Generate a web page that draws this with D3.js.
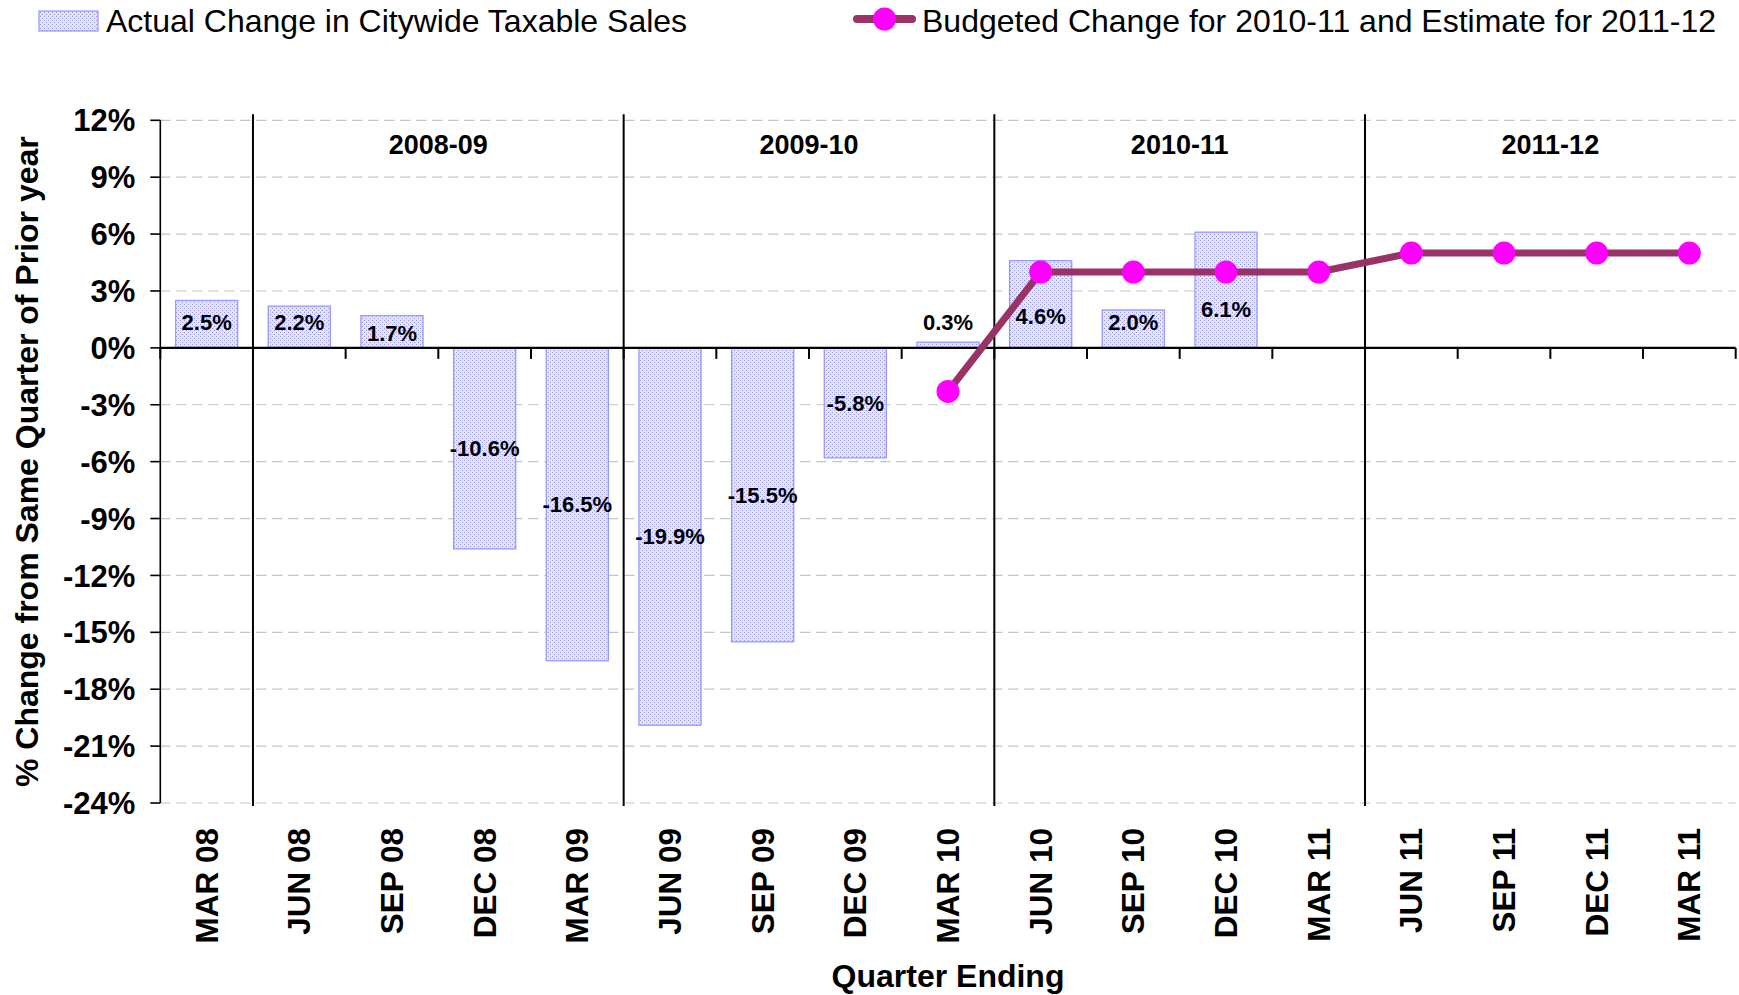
<!DOCTYPE html>
<html>
<head>
<meta charset="utf-8">
<script src="https://cdn.jsdelivr.net/npm/d3@7"></script>
<style>
  html, body { margin: 0; padding: 0; background: #fff; }
  svg { display: block; font-family: "Liberation Sans", Arial, sans-serif; }
</style>
</head>
<body>
<svg id="chart" width="1739" height="995"></svg>
<script>
// ---------------- DATA ----------------
const categories = ["MAR 08","JUN 08","SEP 08","DEC 08","MAR 09","JUN 09","SEP 09","DEC 09",
                    "MAR 10","JUN 10","SEP 10","DEC 10","MAR 11","JUN 11","SEP 11","DEC 11","MAR 11"];
const actualChange = [2.5, 2.2, 1.7, -10.6, -16.5, -19.9, -15.5, -5.8, 0.3, 4.6, 2.0, 6.1,
                      null, null, null, null, null];
const actualLabels = ["2.5%","2.2%","1.7%","-10.6%","-16.5%","-19.9%","-15.5%","-5.8%",
                      "0.3%","4.6%","2.0%","6.1%", null, null, null, null, null];
// level (in % units) at which each data label is centred
const labelLevels = [1.35, 1.35, 0.8, -5.3, -8.25, -9.95, -7.75, -2.9, 1.35, 1.65, 1.35, 2.05,
                     null, null, null, null, null];
const budgetedChange = [null, null, null, null, null, null, null, null,
                        -2.3, 4.0, 4.0, 4.0, 4.0, 5.0, 5.0, 5.0, 5.0];
const yTicks = [12, 9, 6, 3, 0, -3, -6, -9, -12, -15, -18, -21, -24];
const fiscalYears = ["2008-09", "2009-10", "2010-11", "2011-12"];
const fiscalYearStart = [1, 5, 9, 13];   // category index where each fiscal year begins
const fiscalYearEnd   = [5, 9, 13, 17];
const legendLabels = ["Actual Change in Citywide Taxable Sales",
                      "Budgeted Change for 2010-11 and Estimate for 2011-12"];
const xTitle = "Quarter Ending";
const yTitle = "% Change from Same Quarter of Prior year";

// ---------------- LAYOUT ----------------
const W = 1739, H = 995;
const plot = { left: 160.3, right: 1735.7, top: 120.3, bottom: 803 };
const FONT = '"Liberation Sans", Arial, sans-serif';

const svg = d3.select("#chart");

const defs = svg.append("defs");
const pat = defs.append("pattern").attr("id", "dots")
  .attr("width", 4).attr("height", 4).attr("patternUnits", "userSpaceOnUse");
pat.append("rect").attr("width", 4).attr("height", 4).attr("fill", "#E3E3FD");
pat.append("rect").attr("x", 0).attr("y", 0).attr("width", 1).attr("height", 1).attr("fill", "#9898EE");
pat.append("rect").attr("x", 2).attr("y", 2).attr("width", 1).attr("height", 1).attr("fill", "#9898EE");

const idx = d3.range(categories.length);
const x = d3.scaleBand().domain(idx).range([plot.left, plot.right])
  .paddingInner(0.33).paddingOuter(0.165);
const edge = d3.scaleLinear().domain([0, categories.length]).range([plot.left, plot.right]);
const y = d3.scaleLinear().domain([-24, 12]).range([plot.bottom, plot.top]);
const cx = i => x(i) + x.bandwidth() / 2;

// gridlines
svg.append("g").selectAll("line").data(yTicks.filter(t => t !== 0)).join("line")
  .attr("x1", plot.left).attr("x2", plot.right)
  .attr("y1", d => y(d)).attr("y2", d => y(d))
  .attr("stroke", "#C4C4C4").attr("stroke-width", 1.2).attr("stroke-dasharray", "10,6");

// bars
svg.append("g").selectAll("rect").data(idx.filter(i => actualChange[i] != null)).join("rect")
  .attr("x", i => x(i))
  .attr("width", x.bandwidth())
  .attr("y", i => y(Math.max(0, actualChange[i])))
  .attr("height", i => Math.abs(y(actualChange[i]) - y(0)))
  .attr("fill", "url(#dots)")
  .attr("stroke", "#9999FF").attr("stroke-width", 1.3);

// fiscal-year separators
svg.append("g").selectAll("line").data(fiscalYearStart).join("line")
  .attr("x1", d => edge(d)).attr("x2", d => edge(d))
  .attr("y1", y(12) - 6).attr("y2", y(-24) + 3)
  .attr("stroke", "#000").attr("stroke-width", 2);

// fiscal-year labels
svg.append("g").selectAll("text").data(fiscalYears).join("text")
  .attr("x", (d, i) => edge((fiscalYearStart[i] + fiscalYearEnd[i]) / 2))
  .attr("y", y(12) + 34)
  .attr("text-anchor", "middle")
  .attr("font-family", FONT).attr("font-weight", "bold").attr("font-size", 27)
  .text(d => d);

// y axis
const yAxis = svg.append("g");
yAxis.append("line").attr("x1", plot.left).attr("x2", plot.left)
  .attr("y1", y(12)).attr("y2", y(-24)).attr("stroke", "#000").attr("stroke-width", 1.6);
yAxis.selectAll("line.tick").data(yTicks).join("line").attr("class", "tick")
  .attr("x1", plot.left - 10).attr("x2", plot.left)
  .attr("y1", d => y(d)).attr("y2", d => y(d))
  .attr("stroke", "#000").attr("stroke-width", 1.6);
yAxis.selectAll("text").data(yTicks).join("text")
  .attr("x", plot.left - 25).attr("y", d => y(d)).attr("dy", "0.36em")
  .attr("text-anchor", "end")
  .attr("font-family", FONT).attr("font-weight", "bold").attr("font-size", 31)
  .text(d => d + "%");

// zero axis line + ticks
const xAxis = svg.append("g");
xAxis.append("line").attr("x1", plot.left).attr("x2", plot.right)
  .attr("y1", y(0)).attr("y2", y(0)).attr("stroke", "#000").attr("stroke-width", 2.2);
xAxis.selectAll("line.tick").data(d3.range(categories.length + 1)).join("line").attr("class", "tick")
  .attr("x1", d => edge(d)).attr("x2", d => edge(d))
  .attr("y1", y(0)).attr("y2", y(0) + 11)
  .attr("stroke", "#000").attr("stroke-width", 2);

// category labels (rotated)
svg.append("g").selectAll("text").data(idx).join("text")
  .attr("transform", i => `translate(${cx(i) + 11},${y(-24) + 25}) rotate(-90)`)
  .attr("text-anchor", "end")
  .attr("font-family", FONT).attr("font-weight", "bold").attr("font-size", 31.5)
  .text(i => categories[i]);

// line series
const lineGen = d3.line()
  .defined(i => budgetedChange[i] != null)
  .x(i => cx(i)).y(i => y(budgetedChange[i]));
svg.append("path").datum(idx)
  .attr("d", lineGen)
  .attr("fill", "none").attr("stroke", "#993366").attr("stroke-width", 7)
  .attr("stroke-linejoin", "round");

// bar data labels
svg.append("g").selectAll("text").data(idx.filter(i => actualLabels[i] != null)).join("text")
  .attr("x", i => cx(i)).attr("y", i => y(labelLevels[i])).attr("dy", "0.36em")
  .attr("text-anchor", "middle")
  .attr("font-family", FONT).attr("font-weight", "bold").attr("font-size", 22)
  .text(i => actualLabels[i]);

// markers
svg.append("g").selectAll("circle").data(idx.filter(i => budgetedChange[i] != null)).join("circle")
  .attr("cx", i => cx(i)).attr("cy", i => y(budgetedChange[i]))
  .attr("r", 11.5).attr("fill", "#FF00FF");

// axis titles
svg.append("text")
  .attr("x", (plot.left + plot.right) / 2).attr("y", 987)
  .attr("text-anchor", "middle")
  .attr("font-family", FONT).attr("font-weight", "bold").attr("font-size", 32)
  .text(xTitle);
svg.append("text")
  .attr("transform", `translate(38,${(plot.top + plot.bottom) / 2}) rotate(-90)`)
  .attr("text-anchor", "middle")
  .attr("font-family", FONT).attr("font-weight", "bold").attr("font-size", 32)
  .text(yTitle);

// legend
const lg = svg.append("g");
lg.append("rect").attr("x", 39).attr("y", 11).attr("width", 59).attr("height", 20)
  .attr("fill", "url(#dots)").attr("stroke", "#9999FF").attr("stroke-width", 1.3);
lg.append("text").attr("x", 106).attr("y", 32)
  .attr("font-family", FONT).attr("font-size", 32).text(legendLabels[0]);
lg.append("line").attr("x1", 857).attr("x2", 912).attr("y1", 19).attr("y2", 19)
  .attr("stroke", "#993366").attr("stroke-width", 8).attr("stroke-linecap", "round");
lg.append("circle").attr("cx", 884.5).attr("cy", 19).attr("r", 11.5).attr("fill", "#FF00FF");
lg.append("text").attr("x", 922).attr("y", 32)
  .attr("font-family", FONT).attr("font-size", 32).text(legendLabels[1]);
</script>
</body>
</html>
